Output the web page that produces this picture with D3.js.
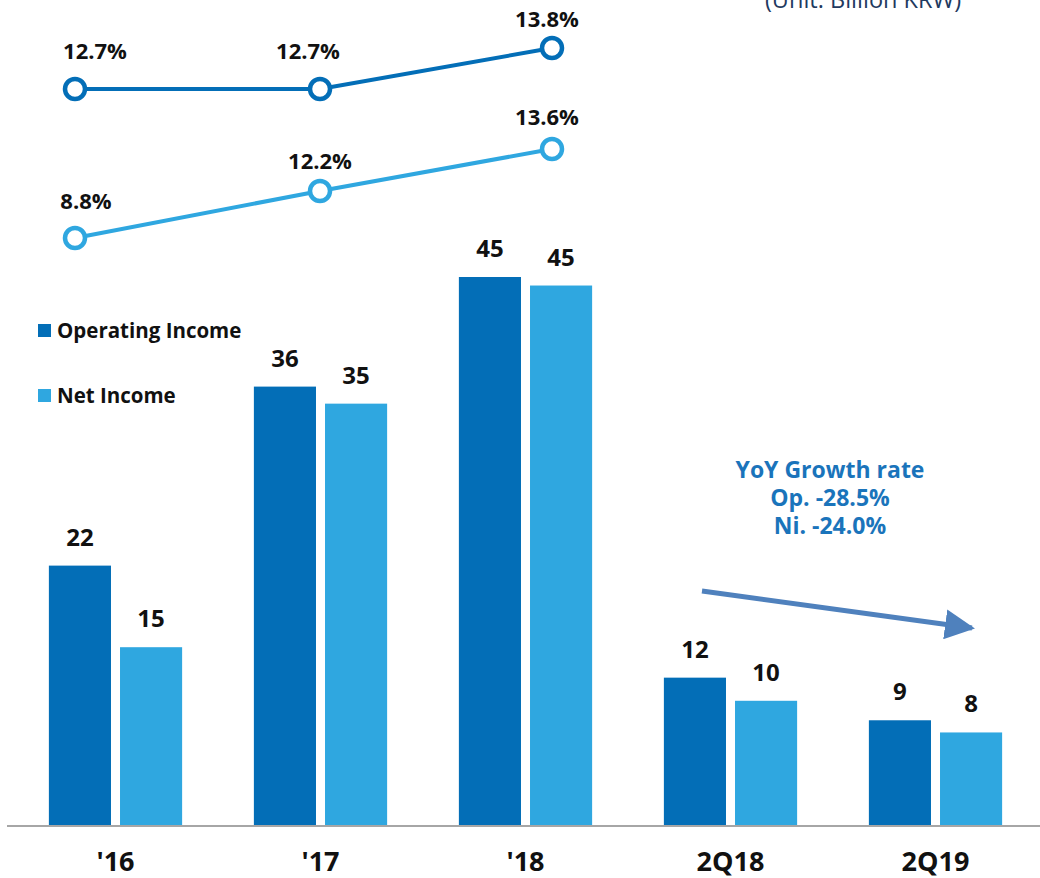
<!DOCTYPE html>
<html>
<head>
  <script src="https://cdn.jsdelivr.net/npm/d3@7"></script>
  <style>
    body { margin: 0; background: #fff; }
    svg text { font-family: "Open Sans", "Noto Sans", sans-serif; }
    .val { font-weight: bold; font-size: 24px; fill: #111; text-anchor: middle; }
    .pct { font-weight: bold; font-size: 22px; fill: #111; text-anchor: middle; }
    .cat { font-weight: bold; font-size: 27px; fill: #111; text-anchor: middle; }
    .leg { font-weight: bold; font-size: 20.5px; fill: #111; }
    .note { font-weight: bold; font-size: 23px; fill: #1a74bb; text-anchor: middle; }
  </style>
</head>
<body>
  <svg id="chart" width="1040" height="878"></svg>
  <script>
    var categories = ["'16", "'17", "'18", "2Q18", "2Q19"];
    var opIncome = [21.3, 36.0, 45.0, 12.1, 8.6];
    var netIncome = [14.6, 34.6, 44.3, 10.2, 7.6];
    var opLabels = ["22", "36", "45", "12", "9"];
    var netLabels = ["15", "35", "45", "10", "8"];

    var marginYears = ["'16", "'17", "'18"];
    var opMargin = [12.7, 12.7, 13.8];
    var netMargin = [8.8, 12.2, 13.6];

    var darkBlue = '#036eb7';
    var lightBlue = '#2fa7e0';

    var svg = d3.select('#chart');

    var x = d3.scaleBand()
      .domain(categories)
      .range([13, 1038])
      .paddingInner(0.35)
      .paddingOuter(0.175);

    var xSub = d3.scaleBand()
      .domain(['op', 'ni'])
      .range([0, x.bandwidth()])
      .paddingInner(0.127);

    var y = d3.scaleLinear()
      .domain([0, 45])
      .range([825, 277]);

    var rows = categories.map(function (c, i) {
      return { cat: c, op: opIncome[i], ni: netIncome[i], opL: opLabels[i], niL: netLabels[i] };
    });

    var group = svg.selectAll('g.grp')
      .data(rows)
      .enter()
      .append('g')
      .attr('class', 'grp')
      .attr('transform', function (d) { return 'translate(' + x(d.cat) + ',0)'; });

    group.append('rect')
      .attr('x', xSub('op'))
      .attr('y', function (d) { return y(d.op); })
      .attr('width', xSub.bandwidth())
      .attr('height', function (d) { return y(0) - y(d.op); })
      .attr('fill', darkBlue);

    group.append('rect')
      .attr('x', xSub('ni'))
      .attr('y', function (d) { return y(d.ni); })
      .attr('width', xSub.bandwidth())
      .attr('height', function (d) { return y(0) - y(d.ni); })
      .attr('fill', lightBlue);

    group.append('text')
      .attr('class', 'val')
      .attr('x', xSub('op') + xSub.bandwidth() / 2)
      .attr('y', function (d) { return y(d.op) - 20; })
      .text(function (d) { return d.opL; });

    group.append('text')
      .attr('class', 'val')
      .attr('x', xSub('ni') + xSub.bandwidth() / 2)
      .attr('y', function (d) { return y(d.ni) - 20; })
      .text(function (d) { return d.niL; });

    // baseline
    svg.append('line')
      .attr('x1', 7).attr('x2', 1040)
      .attr('y1', y(0) + 1).attr('y2', y(0) + 1)
      .attr('stroke', '#a6a6a6')
      .attr('stroke-width', 2);

    svg.selectAll('text.cat')
      .data(categories)
      .enter()
      .append('text')
      .attr('class', 'cat')
      .attr('x', function (d) { return x(d) + x.bandwidth() / 2; })
      .attr('y', 871)
      .text(function (d) { return d; });

    // margin lines (own scales, drawn above the bars; spacing is uneven in the source)
    var xl = d3.scaleOrdinal().domain(marginYears).range([75, 320, 552]);
    var yOp = d3.scaleLinear().domain([12.7, 13.8]).range([89, 48]);
    var yNi = d3.scaleLinear().domain([8.8, 12.2, 13.6]).range([238, 191, 149]);

    function drawMargin(values, ys, color, dx, dy) {
      var pts = marginYears.map(function (c, i) { return { cat: c, v: values[i] }; });
      var line = d3.line()
        .x(function (d) { return xl(d.cat); })
        .y(function (d) { return ys(d.v); });
      svg.append('path')
        .datum(pts)
        .attr('d', line)
        .attr('fill', 'none')
        .attr('stroke', color)
        .attr('stroke-width', 4);
      svg.selectAll(null)
        .data(pts)
        .enter()
        .append('circle')
        .attr('cx', function (d) { return xl(d.cat); })
        .attr('cy', function (d) { return ys(d.v); })
        .attr('r', 10)
        .attr('fill', '#fff')
        .attr('stroke', color)
        .attr('stroke-width', 4.5);
      svg.selectAll(null)
        .data(pts)
        .enter()
        .append('text')
        .attr('class', 'pct')
        .attr('x', function (d, i) { return xl(d.cat) + dx[i]; })
        .attr('y', function (d, i) { return ys(d.v) - dy[i]; })
        .text(function (d) { return d.v.toFixed(1) + '%'; });
    }
    drawMargin(opMargin, yOp, darkBlue, [20, -12, -5], [30, 30, 21]);
    drawMargin(netMargin, yNi, lightBlue, [11, 0, -5], [29, 22, 24]);

    // legend
    var legend = svg.append('g');
    [['Operating Income', darkBlue, 331], ['Net Income', lightBlue, 396]].forEach(function (l) {
      legend.append('rect')
        .attr('x', 38).attr('y', l[2] - 7)
        .attr('width', 13).attr('height', 13)
        .attr('fill', l[1]);
      legend.append('text')
        .attr('class', 'leg')
        .attr('x', 57).attr('y', l[2] + 7)
        .text(l[0]);
    });

    // unit note, partly off the top
    svg.append('text')
      .attr('x', 863).attr('y', 8)
      .attr('text-anchor', 'middle')
      .attr('font-size', 23.5)
      .attr('fill', '#1f3a60')
      .text('(Unit: Billion KRW)');

    // YoY annotation
    ['YoY Growth rate', 'Op. -28.5%', 'Ni. -24.0%'].forEach(function (t, i) {
      svg.append('text')
        .attr('class', 'note')
        .attr('x', 830)
        .attr('y', 478 + i * 28)
        .text(t);
    });

    svg.append('defs').append('marker')
      .attr('id', 'head')
      .attr('viewBox', '0 0 10 10')
      .attr('refX', 9).attr('refY', 5)
      .attr('markerWidth', 6).attr('markerHeight', 6)
      .attr('markerUnits', 'strokeWidth')
      .attr('orient', 'auto')
      .append('path')
      .attr('d', 'M0,0L10,5L0,10Z')
      .attr('fill', '#4f81bd');

    svg.append('line')
      .attr('x1', 702).attr('y1', 591)
      .attr('x2', 972).attr('y2', 628)
      .attr('stroke', '#4f81bd')
      .attr('stroke-width', 5)
      .attr('marker-end', 'url(#head)');
  </script>
</body>
</html>
